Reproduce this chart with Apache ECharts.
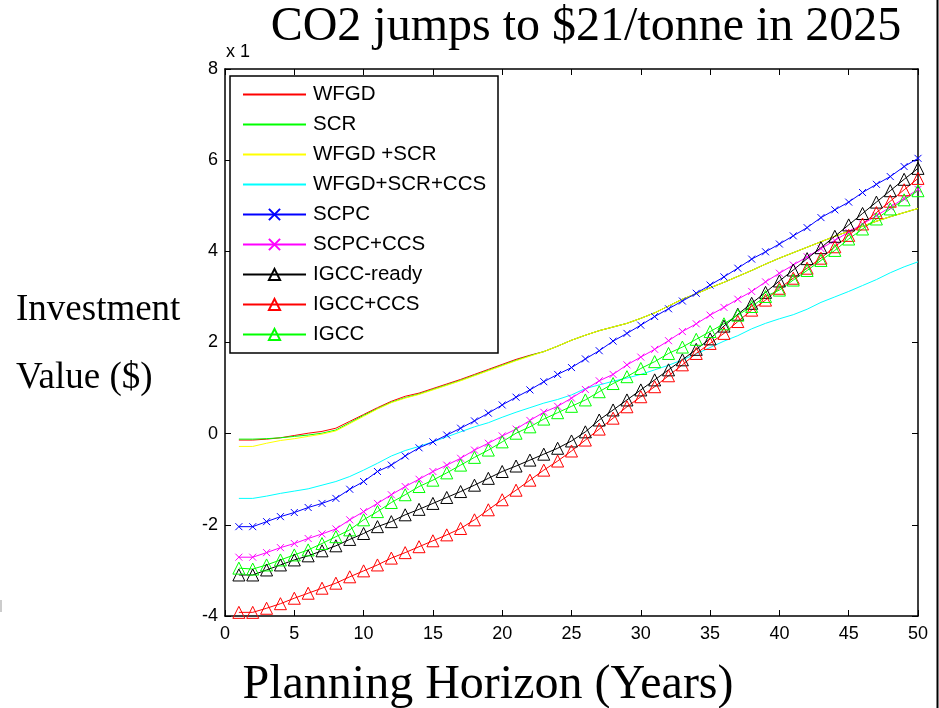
<!DOCTYPE html>
<html>
<head>
<meta charset="utf-8">
<script src="https://cdn.jsdelivr.net/npm/echarts@6/dist/echarts.min.js"></script>
<style>
html,body{margin:0;padding:0;background:#fff;}
#chart{width:939px;height:708px;}
</style>
</head>
<body>
<div id="chart"></div>
<script>
// ---- data ----
const years = [1,2,3,4,5,6,7,8,9,10,11,12,13,14,15,16,17,18,19,20,21,22,23,24,25,26,27,28,29,30,31,32,33,34,35,36,37,38,39,40,41,42,43,44,45,46,47,48,49,50];

const wfgd = [-0.14,-0.14,-0.12,-0.09,-0.04,0.01,0.05,0.12,0.27,0.42,0.57,0.71,0.82,0.89,0.99,1.09,1.19,1.30,1.41,1.52,1.63,1.72,1.80,1.92,2.05,2.16,2.26,2.34,2.42,2.53,2.65,2.80,2.95,3.07,3.20,3.32,3.45,3.58,3.72,3.85,3.97,4.09,4.21,4.33,4.44,4.55,4.66,4.76,4.85,4.94];

const scr = [-0.12,-0.12,-0.11,-0.09,-0.06,-0.03,0.01,0.08,0.24,0.40,0.55,0.69,0.79,0.87,0.97,1.07,1.17,1.28,1.39,1.50,1.61,1.71,1.80,1.92,2.05,2.16,2.26,2.34,2.42,2.53,2.65,2.80,2.95,3.07,3.20,3.32,3.45,3.58,3.72,3.85,3.97,4.09,4.21,4.33,4.44,4.55,4.66,4.76,4.85,4.94];

const wfgdScr = [-0.28,-0.28,-0.21,-0.15,-0.11,-0.06,-0.01,0.06,0.22,0.38,0.54,0.68,0.78,0.86,0.96,1.06,1.16,1.27,1.38,1.49,1.60,1.70,1.80,1.92,2.05,2.16,2.26,2.34,2.42,2.53,2.65,2.80,2.95,3.07,3.20,3.32,3.45,3.58,3.72,3.85,3.97,4.09,4.21,4.33,4.44,4.55,4.66,4.76,4.85,4.94];

const wfgdScrCcs = [-1.42,-1.42,-1.37,-1.31,-1.26,-1.21,-1.13,-1.05,-0.94,-0.80,-0.65,-0.49,-0.37,-0.28,-0.18,-0.07,0.04,0.15,0.24,0.36,0.47,0.57,0.67,0.75,0.85,0.99,1.07,1.15,1.22,1.30,1.40,1.50,1.62,1.75,1.89,2.03,2.15,2.30,2.42,2.52,2.61,2.73,2.88,3.00,3.12,3.25,3.38,3.53,3.66,3.77];

const scpc = [-2.04,-2.04,-1.93,-1.82,-1.73,-1.62,-1.53,-1.42,-1.22,-1.05,-0.83,-0.69,-0.49,-0.31,-0.18,-0.03,0.12,0.28,0.45,0.63,0.80,0.96,1.14,1.30,1.45,1.64,1.82,2.03,2.20,2.38,2.57,2.74,2.91,3.08,3.26,3.44,3.63,3.83,3.99,4.16,4.34,4.52,4.74,4.91,5.08,5.29,5.47,5.64,5.86,6.04];

const scpcCcs = [-2.71,-2.71,-2.61,-2.50,-2.41,-2.30,-2.20,-2.09,-1.89,-1.71,-1.53,-1.34,-1.16,-1.00,-0.83,-0.69,-0.54,-0.36,-0.21,-0.05,0.10,0.29,0.47,0.60,0.78,0.97,1.16,1.30,1.51,1.68,1.85,2.04,2.24,2.41,2.60,2.77,2.95,3.12,3.33,3.52,3.70,3.88,4.06,4.24,4.42,4.60,4.78,4.97,5.16,5.36];

const igccReady = [-3.10,-3.10,-2.99,-2.88,-2.77,-2.68,-2.57,-2.46,-2.32,-2.19,-2.04,-1.93,-1.78,-1.66,-1.53,-1.40,-1.27,-1.13,-0.98,-0.83,-0.71,-0.58,-0.45,-0.32,-0.16,0.04,0.30,0.52,0.74,0.96,1.18,1.40,1.62,1.85,2.08,2.36,2.62,2.86,3.10,3.35,3.59,3.84,4.08,4.33,4.58,4.83,5.08,5.33,5.58,5.82];

const igccCcs = [-3.92,-3.92,-3.83,-3.73,-3.61,-3.50,-3.39,-3.28,-3.14,-3.01,-2.88,-2.73,-2.61,-2.48,-2.35,-2.22,-2.08,-1.89,-1.67,-1.45,-1.24,-1.02,-0.80,-0.60,-0.38,-0.14,0.10,0.34,0.59,0.81,1.03,1.27,1.51,1.76,1.98,2.20,2.46,2.71,2.93,3.19,3.41,3.63,3.85,4.10,4.35,4.60,4.85,5.10,5.35,5.60];

const igcc = [-2.95,-2.97,-2.88,-2.77,-2.66,-2.55,-2.41,-2.26,-2.11,-1.89,-1.71,-1.51,-1.34,-1.16,-1.02,-0.86,-0.69,-0.52,-0.36,-0.18,0.01,0.15,0.32,0.46,0.60,0.74,0.92,1.10,1.25,1.43,1.58,1.76,1.90,2.07,2.24,2.41,2.60,2.79,3.01,3.15,3.37,3.58,3.80,4.02,4.27,4.49,4.71,4.93,5.13,5.33];

const seriesNames = ['WFGD','SCR','WFGD +SCR','WFGD+SCR+CCS','SCPC','SCPC+CCS','IGCC-ready','IGCC+CCS','IGCC'];
const seriesValues = [wfgd, scr, wfgdScr, wfgdScrCcs, scpc, scpcCcs, igccReady, igccCcs, igcc];
const seriesColors = ['#ff0000','#00ff00','#ffff00','#00ffff','#0000ff','#ff00ff','#000000','#ff0000','#00ff00'];
const seriesMarkers = ['none','none','none','none','cross','cross','triangle','triangle','triangle'];

const xTicks = {min:0, max:50, step:5};
const yTicks = {min:-4, max:8, step:2};

const titleText = 'CO2 jumps to $21/tonne in 2025';
const xLabelText = 'Planning Horizon (Years)';
const yLabelLines = ['Investment','Value ($)'];
const exponentText = 'x 1';

// ---- chart ----
const chart = echarts.init(document.getElementById('chart'), null, {renderer:'canvas'});
const SANS = 'Liberation Sans, Arial, sans-serif';
const SERIF = 'Liberation Serif, Times New Roman, serif';
const crossPath = 'path://M0,0L10,10M10,0L0,10';

const series = seriesNames.map((name, i) => {
  const c = seriesColors[i];
  const m = seriesMarkers[i];
  const s = {
    name: name,
    type: 'line',
    data: years.map((x, j) => [x, seriesValues[i][j]]),
    lineStyle: {color: c, width: 1},
    emphasis: {disabled: true},
    clip: true,
    animation: false
  };
  if (m === 'none') {
    s.symbol = 'none';
    s.itemStyle = {color: c};
  } else if (m === 'cross') {
    s.symbol = crossPath;
    s.symbolSize = 7;
    s.showAllSymbol = true;
    s.itemStyle = {color: c, borderColor: c, borderWidth: 1};
  } else {
    s.symbol = 'triangle';
    s.symbolSize = 12;
    s.showAllSymbol = true;
    s.itemStyle = {color: 'rgba(255,255,255,0)', borderColor: c, borderWidth: 1};
  }
  return s;
});

const legendData = seriesNames.map((name, i) => {
  if (seriesMarkers[i] === 'none') {
    return {name: name, itemStyle: {opacity: 0, color: 'rgba(0,0,0,0)', borderWidth: 0}};
  }
  return {name: name};
});

const axisCommon = {
  type: 'value',
  axisLine: {show: true, onZero: false, lineStyle: {color: '#000', width: 1.5}},
  axisTick: {show: true, inside: true, length: 6, lineStyle: {color: '#000', width: 1}},
  splitLine: {show: false}
};

const option = {
  backgroundColor: '#ffffff',
  animation: false,
  grid: {left: 225, top: 69, width: 693, height: 547, containLabel: false},
  xAxis: [
    Object.assign({}, axisCommon, {min: xTicks.min, max: xTicks.max, interval: xTicks.step, position: 'bottom',
      axisLabel: {show: true, color: '#000', fontSize: 18, fontFamily: SANS, margin: 9}}),
    Object.assign({}, axisCommon, {min: xTicks.min, max: xTicks.max, interval: xTicks.step, position: 'top',
      axisLabel: {show: false}})
  ],
  yAxis: [
    Object.assign({}, axisCommon, {min: yTicks.min, max: yTicks.max, interval: yTicks.step, position: 'left',
      axisLabel: {show: true, color: '#000', fontSize: 18, fontFamily: SANS, margin: 7}}),
    Object.assign({}, axisCommon, {min: yTicks.min, max: yTicks.max, interval: yTicks.step, position: 'right',
      axisLabel: {show: false}})
  ],
  legend: {
    data: legendData,
    orient: 'vertical',
    left: 230,
    top: 77,
    padding: [7, 12, 7, 12],
    itemWidth: 63,
    itemHeight: 14,
    itemGap: 9,
    selectedMode: false,
    textStyle: {color: '#000', fontSize: 20.5, fontFamily: SANS, lineHeight: 20, padding: [0, 0, 0, 2]},
    z: 5
  },
  graphic: [
    {type: 'rect', shape: {x: 230, y: 76, width: 268, height: 277}, style: {fill: '#fff', stroke: '#000', lineWidth: 1.5}, z: 4, silent: true},
    {type: 'text', x: 586, y: 27, style: {text: titleText, font: '48px ' + SERIF, fill: '#000', textAlign: 'center', textVerticalAlign: 'middle'}, z: 10},
    {type: 'text', x: 226, y: 52, style: {text: exponentText, font: '18px ' + SANS, fill: '#000', textAlign: 'left', textVerticalAlign: 'middle'}, z: 10},
    {type: 'text', x: 16, y: 310, style: {text: yLabelLines[0], font: '37px ' + SERIF, fill: '#000', textAlign: 'left', textVerticalAlign: 'middle'}, z: 10},
    {type: 'text', x: 16, y: 378, style: {text: yLabelLines[1], font: '37px ' + SERIF, fill: '#000', textAlign: 'left', textVerticalAlign: 'middle'}, z: 10},
    {type: 'text', x: 488, y: 685, style: {text: xLabelText, font: '48px ' + SERIF, fill: '#000', textAlign: 'center', textVerticalAlign: 'middle'}, z: 10},
    {type: 'line', shape: {x1: 937.5, y1: 0, x2: 937.5, y2: 708}, style: {stroke: '#000', lineWidth: 2}, z: 10},
    {type: 'rect', shape: {x: 0, y: 600, width: 2, height: 12}, style: {fill: '#cccccc'}, z: 10}
  ],
  series: series
};
chart.setOption(option);
</script>
</body>
</html>
